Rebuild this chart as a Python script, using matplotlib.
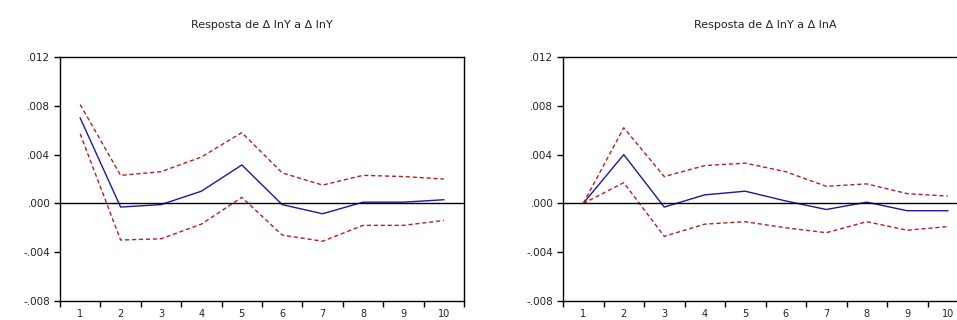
import matplotlib
matplotlib.use("Agg")
import matplotlib.pyplot as plt
import numpy as np

periods = [1, 2, 3, 4, 5, 6, 7, 8, 9, 10]
yticks = [-0.008, -0.004, 0.0, 0.004, 0.008, 0.012]
ytick_labels = ["-.008", "-.004", ".000", ".004", ".008", ".012"]

title_left = "Resposta de \u0394 lnY a \u0394 lnY"
resp_left = [0.0070, -0.0003, -0.0001, 0.0010, 0.00315, -0.0001, -0.00085, 0.0001, 0.0001, 0.0003]
upper_left = [0.0081, 0.0023, 0.0026, 0.0038, 0.0058, 0.0025, 0.0015, 0.0023, 0.0022, 0.0020]
lower_left = [0.0057, -0.0030, -0.0029, -0.0017, 0.0005, -0.0026, -0.0031, -0.0018, -0.0018, -0.0014]

title_right = "Resposta de \u0394 lnY a \u0394 lnA"
resp_right = [0.0000, 0.0040, -0.0003, 0.0007, 0.0010, 0.0002, -0.0005, 0.0001, -0.0006, -0.0006]
upper_right = [0.0000, 0.0062, 0.0022, 0.0031, 0.0033, 0.0026, 0.0014, 0.0016, 0.0008, 0.0006]
lower_right = [0.0000, 0.0017, -0.0027, -0.0017, -0.0015, -0.0020, -0.0024, -0.0015, -0.0022, -0.0019]

W, H = 957, 320
fig = plt.figure(figsize=(W / 100, H / 100), dpi=100)
plt.rcParams['font.family'] = ['DejaVu Sans']

def make_ax(left_px, right_px, title, resp, up, lo):
    top_px, bot_px = 57, 301
    ax = fig.add_axes([left_px / W, 1 - bot_px / H, (right_px - left_px) / W, (bot_px - top_px) / H])
    ax.plot(periods, resp, color="#1a1a9c", lw=1.0)
    ax.plot(periods, up, color="#b52020", lw=1.0, ls=(0, (3, 2)))
    ax.plot(periods, lo, color="#b52020", lw=1.0, ls=(0, (3, 2)))
    ax.axhline(0, color="black", lw=1.0)
    ax.set_xlim(0.5, 10.5)
    ax.set_ylim(-0.008, 0.012)
    ax.set_yticks(yticks)
    ax.set_yticklabels(ytick_labels, fontsize=7.5, color="#222222")
    ax.set_xticks(periods)
    ax.set_xticklabels([str(p) for p in periods], fontsize=7, color="#222222")
    ax.set_xticks(np.arange(0.5, 11.0, 1.0), minor=True)
    ax.tick_params(axis="x", which="major", length=0, pad=6)
    ax.tick_params(axis="x", which="minor", length=4, width=1, direction="out")
    ax.tick_params(axis="y", length=4, width=1, direction="out", pad=3)
    for s in ax.spines.values():
        s.set_linewidth(1.0)
    ax.set_title(title, fontsize=8, pad=21, color="#222222")
    return ax

make_ax(60, 464, title_left, resp_left, upper_left, lower_left)
make_ax(563, 968, title_right, resp_right, upper_right, lower_right)

fig.savefig("out.png", dpi=100)
